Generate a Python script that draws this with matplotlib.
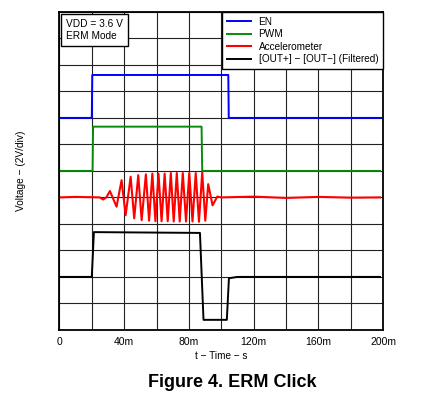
import matplotlib
matplotlib.use("Agg")
import matplotlib.pyplot as plt

# trace data, time in ms, level in divisions (2 V/div)
en_t = [0, 20.0, 20.3, 104.3, 104.6, 199]
en_v = [8.0, 8.0, 9.62, 9.62, 8.0, 8.0]

pwm_t = [0, 20.5, 20.8, 87.8, 88.2, 198]
pwm_v = [6.0, 6.0, 7.67, 7.67, 6.0, 6.0]

acc_t = [0, 10, 25, 27.0, 29.0, 31.2, 35.3, 38.4, 40.9, 44.0, 46.2, 48.7, 50.8,
         53.4, 55.4, 57.4, 59.3, 61.2, 63.1, 65.0, 66.9, 68.8, 70.6, 72.5, 74.3,
         76.2, 78.2, 80.2, 82.2, 84.2, 86.2, 88.2, 90.1, 91.9, 94.6, 97.5, 100,
         120, 140, 160, 180, 198]
acc_v = [5.0, 5.02, 5.0, 4.92, 5.0, 5.24, 4.65, 5.65, 4.33, 5.78, 4.21, 5.84, 4.14,
         5.87, 4.12, 5.9, 4.1, 5.9, 4.1, 5.9, 4.1, 5.92, 4.09, 5.92, 4.09,
         5.92, 4.09, 5.92, 4.09, 5.92, 4.08, 5.95, 4.12, 5.5, 4.7, 5.03, 5.0,
         5.03, 4.98, 5.02, 4.99, 5.0]

out_t = [0, 20.0, 21.3, 86.8, 89.0, 103.4, 104.7, 110, 198]
out_v = [2.0, 2.0, 3.69, 3.66, 0.38, 0.38, 1.95, 2.0, 2.0]

xticks = [0, 20, 40, 60, 80, 100, 120, 140, 160, 180, 200]
xlabels = ["0", "", "40m", "", "80m", "", "120m", "", "160m", "", "200m"]

plt.rcParams['font.family'] = ['Liberation Sans', 'DejaVu Sans']

fig = plt.figure(figsize=(4.4, 3.97), dpi=100)
ax = fig.add_axes([0.135, 0.169, 0.736, 0.801])

ax.set_xlim(0, 200)
ax.set_ylim(0, 12)
ax.set_xticks(xticks)
ax.set_xticklabels(xlabels, fontsize=7.5)
ax.set_yticks(range(13))
ax.set_yticklabels([])
ax.tick_params(length=0, pad=5)
ax.grid(True, color='#222222', linewidth=0.8)
ax.set_axisbelow(True)
for s in ax.spines.values():
    s.set_linewidth(1.3)

ax.plot(en_t, en_v, color='#0000ff', lw=1.4, label='EN')
ax.plot(pwm_t, pwm_v, color='#0a8a0a', lw=1.4, label='PWM')
ax.plot(acc_t, acc_v, color='#ff0000', lw=1.5, solid_joinstyle='round', label='Accelerometer')
ax.plot(out_t, out_v, color='black', lw=1.4, label='[OUT+] \u2212 [OUT\u2212] (Filtered)')

leg = ax.legend(loc='upper right', fontsize=7.2, frameon=True, fancybox=False,
                edgecolor='black', framealpha=1, borderaxespad=0,
                handlelength=2.4, labelspacing=0.25, borderpad=0.5, handletextpad=0.75)
leg.get_frame().set_linewidth(1.0)

ax.text(4.0, 11.72, "VDD = 3.6 V\nERM Mode", fontsize=7.3, va='top', ha='left',
        linespacing=1.15,
        bbox=dict(boxstyle='square,pad=0.5', facecolor='white', edgecolor='black', lw=1.0))

ax.set_xlabel("t \u2212 Time \u2212 s", fontsize=7.2, labelpad=3)
ax.set_ylabel("Voltage \u2212 (2V/div)", fontsize=7.3, labelpad=19)

fig.text(0.528, 0.024, "Figure 4. ERM Click", fontsize=13, fontweight='bold',
         ha='center', va='baseline')

fig.savefig("out.png", dpi=100)
